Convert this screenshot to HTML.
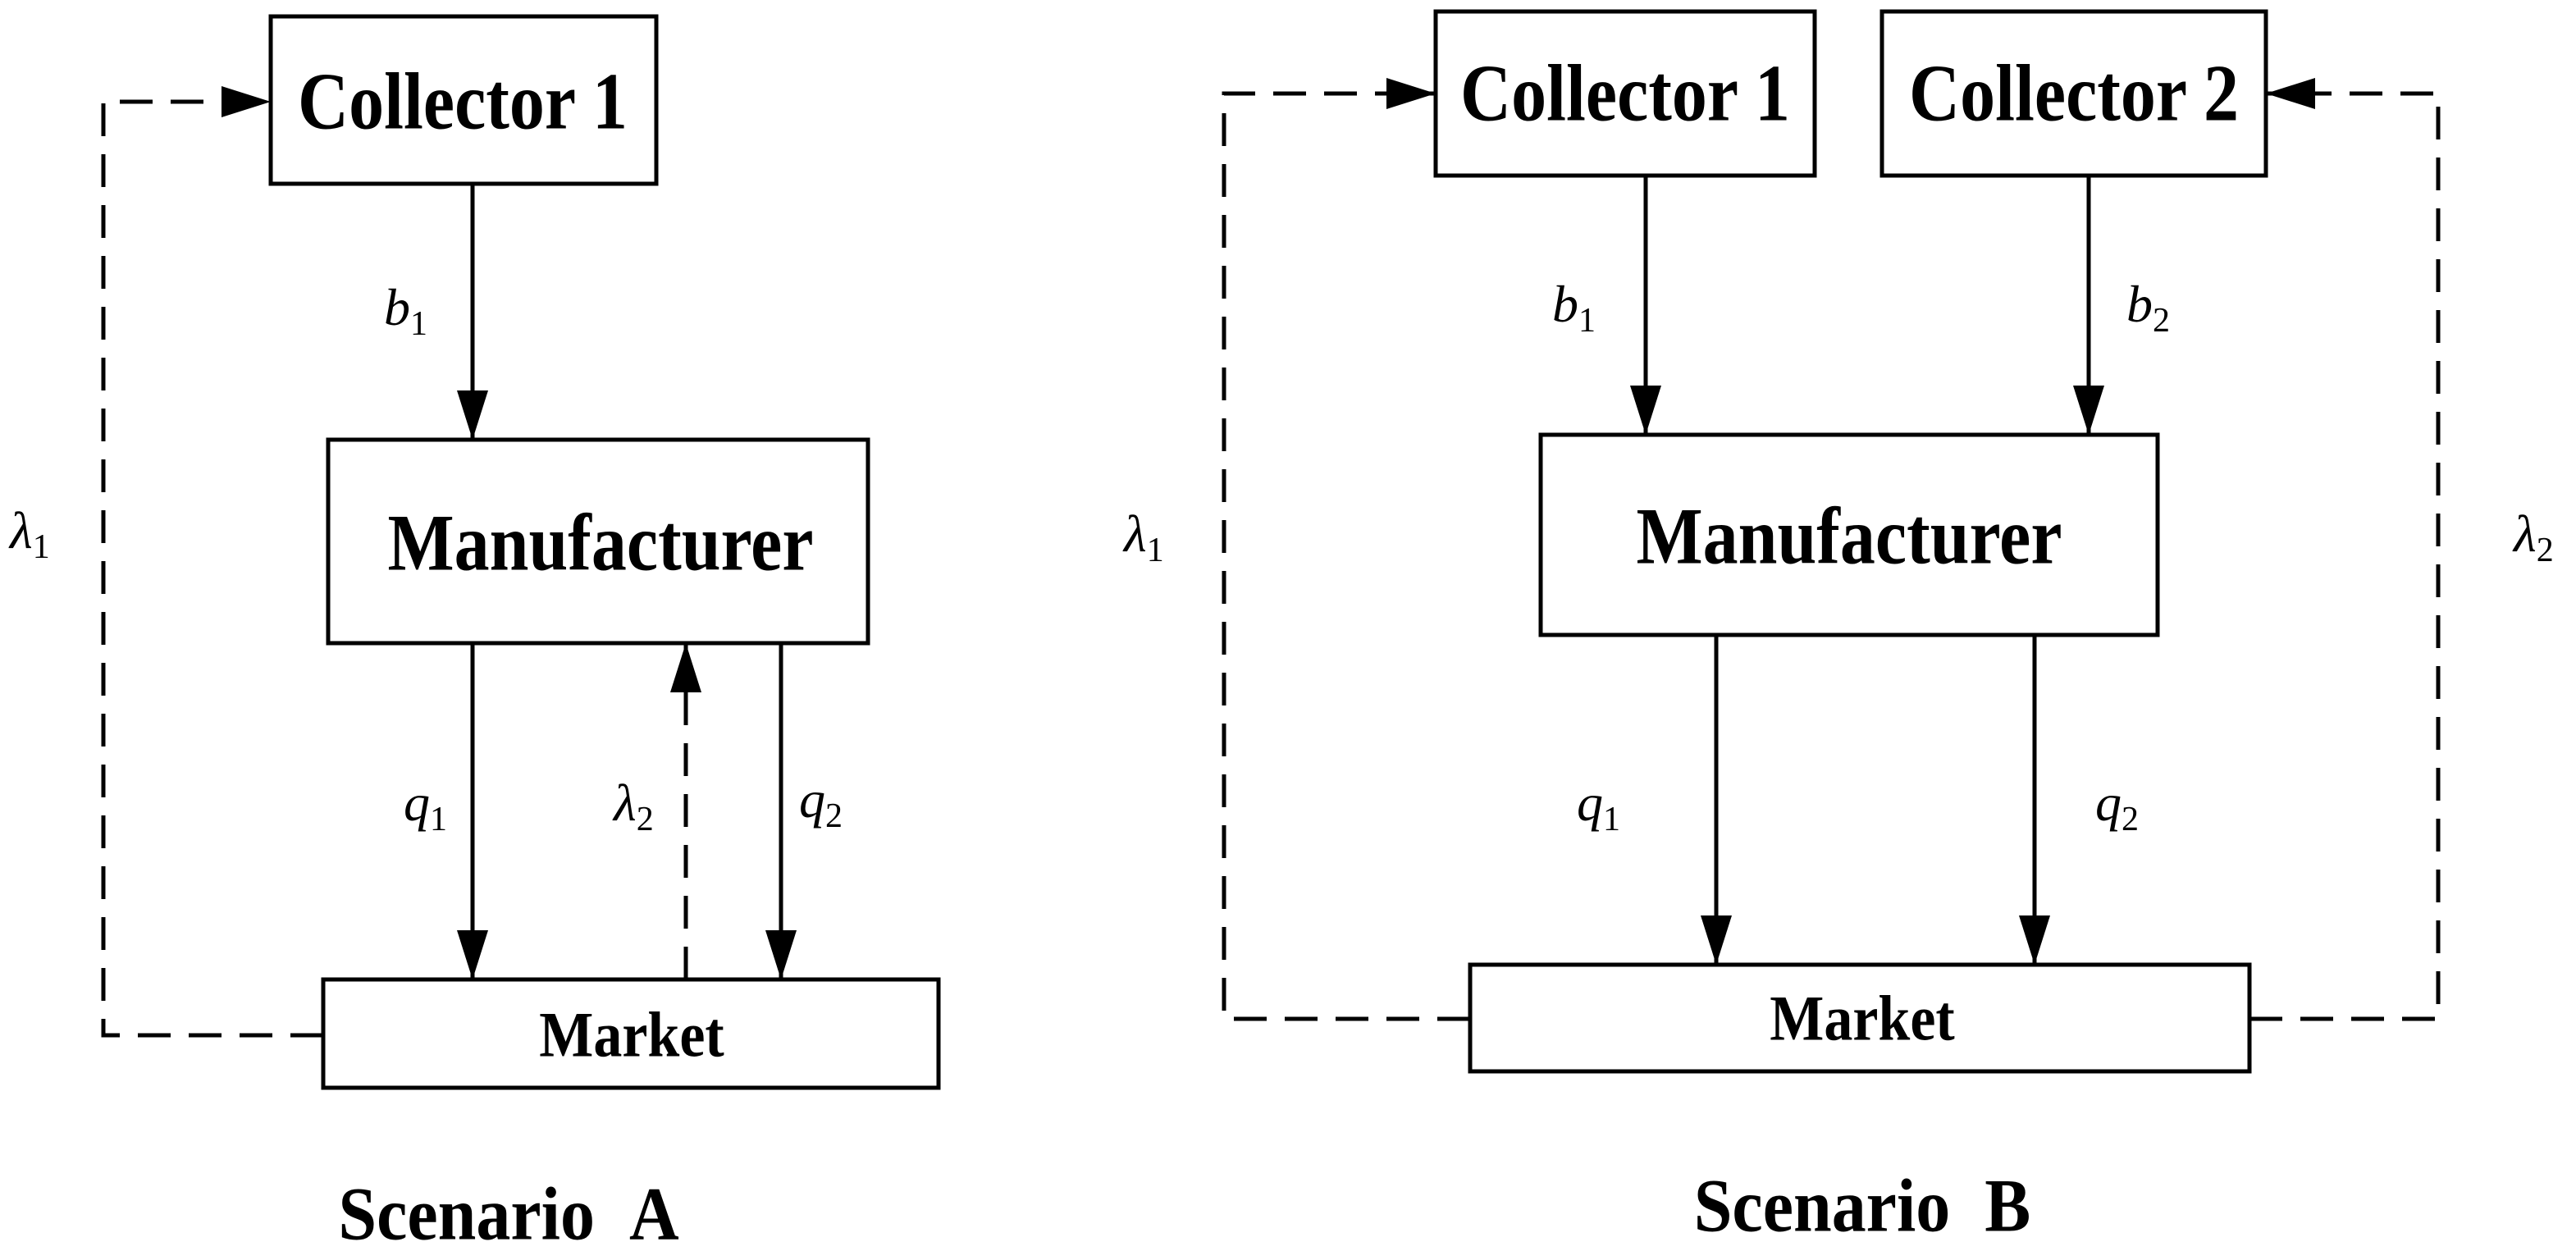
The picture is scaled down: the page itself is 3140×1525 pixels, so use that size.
<!DOCTYPE html>
<html><head><meta charset="utf-8"><style>
html,body{margin:0;padding:0;background:#fff;}
svg{display:block;}
.box{fill:#fff;stroke:#000;stroke-width:5;}
.ln{stroke:#000;stroke-width:5;fill:none;}
.ds{stroke:#000;stroke-width:5;fill:none;stroke-dasharray:40 22;}
.t{font-family:"Liberation Serif",serif;font-weight:bold;text-anchor:middle;dominant-baseline:central;}
.v{font-family:"Liberation Serif",serif;font-style:italic;font-size:64px;}
.s{font-style:normal;font-size:42px;}
</style></head><body>
<svg width="3140" height="1525" viewBox="0 0 3140 1525">
<defs>
<marker id="a" markerUnits="userSpaceOnUse" markerWidth="62" markerHeight="40" refX="60" refY="19" orient="auto">
<path d="M0,0 L60,19 L0,38 Z" fill="#000"/></marker>
</defs>
<!-- Scenario A -->
<rect class="box" x="330" y="20" width="470" height="204"/>
<text class="t" transform="translate(564,124) scale(1,1.15)" font-size="86">Collector 1</text>
<rect class="box" x="400" y="536" width="658" height="248"/>
<text class="t" transform="translate(732,662) scale(1,1.15)" font-size="86">Manufacturer</text>
<rect class="box" x="394" y="1194" width="750" height="132"/>
<text class="t" transform="translate(770,1262) scale(1,1.12)" font-size="70">Market</text>
<line class="ln" x1="576" y1="224" x2="576" y2="536" marker-end="url(#a)"/>
<text class="v" x="468" y="396">b<tspan class="s" dy="12">1</tspan></text>
<polyline class="ds" points="394,1262 126,1262 126,124 330,124" marker-end="url(#a)"/>
<text class="v" x="12" y="668">λ<tspan class="s" dy="12">1</tspan></text>
<line class="ln" x1="576" y1="784" x2="576" y2="1194" marker-end="url(#a)"/>
<text class="v" x="492" y="1000">q<tspan class="s" dy="12">1</tspan></text>
<line class="ds" x1="836" y1="1194" x2="836" y2="784" marker-end="url(#a)"/>
<text class="v" x="748" y="1000">λ<tspan class="s" dy="12">2</tspan></text>
<line class="ln" x1="952" y1="784" x2="952" y2="1194" marker-end="url(#a)"/>
<text class="v" x="974" y="996">q<tspan class="s" dy="12">2</tspan></text>
<text class="t" transform="translate(620,1480) scale(1,1.1)" font-size="84">Scenario&#160;&#160;A</text>
<!-- Scenario B -->
<rect class="box" x="1750" y="14" width="462" height="200"/>
<text class="t" transform="translate(1981,114) scale(1,1.15)" font-size="86">Collector 1</text>
<rect class="box" x="2294" y="14" width="468" height="200"/>
<text class="t" transform="translate(2528,114) scale(1,1.15)" font-size="86">Collector 2</text>
<rect class="box" x="1878" y="530" width="752" height="244"/>
<text class="t" transform="translate(2254,654) scale(1,1.15)" font-size="86">Manufacturer</text>
<rect class="box" x="1792" y="1176" width="950" height="130"/>
<text class="t" transform="translate(2270,1242) scale(1,1.12)" font-size="70">Market</text>
<line class="ln" x1="2006" y1="214" x2="2006" y2="530" marker-end="url(#a)"/>
<text class="v" x="1892" y="392">b<tspan class="s" dy="12">1</tspan></text>
<line class="ln" x1="2546" y1="214" x2="2546" y2="530" marker-end="url(#a)"/>
<text class="v" x="2592" y="392">b<tspan class="s" dy="12">2</tspan></text>
<line class="ln" x1="2092" y1="774" x2="2092" y2="1176" marker-end="url(#a)"/>
<text class="v" x="1922" y="1000">q<tspan class="s" dy="12">1</tspan></text>
<line class="ln" x1="2480" y1="774" x2="2480" y2="1176" marker-end="url(#a)"/>
<text class="v" x="2554" y="1000">q<tspan class="s" dy="12">2</tspan></text>
<polyline class="ds" points="1792,1242 1492,1242 1492,114 1750,114" marker-end="url(#a)"/>
<text class="v" x="1370" y="672">λ<tspan class="s" dy="12">1</tspan></text>
<polyline class="ds" points="2742,1242 2972,1242 2972,114 2762,114" marker-end="url(#a)"/>
<text class="v" x="3064" y="672">λ<tspan class="s" dy="12">2</tspan></text>
<text class="t" transform="translate(2270,1470) scale(1,1.1)" font-size="84">Scenario&#160;&#160;B</text>
</svg>
</body></html>
